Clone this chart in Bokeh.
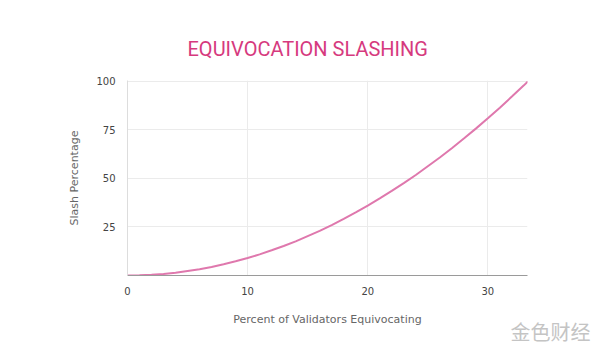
from bokeh.plotting import figure
from bokeh.embed import file_html
from bokeh.resources import INLINE
from bokeh.models import Range1d, FixedTicker, Title

# Data
validators_pct = [0, 1, 2, 3, 4, 5, 6, 7, 8, 9, 10, 11, 12, 13, 14, 15, 16, 17,
                  18, 19, 20, 21, 22, 23, 24, 25, 26, 27, 28, 29, 30, 31, 32, 33, 33.33]
slash_pct = [0, 0.1, 0.4, 0.8, 1.4, 2.3, 3.2, 4.4, 5.8, 7.3, 9.0, 10.9, 13.0, 15.2,
             17.6, 20.3, 23.0, 26.0, 29.2, 32.5, 36.0, 39.7, 43.6, 47.6, 51.8, 56.3,
             60.8, 65.6, 70.6, 75.7, 81.0, 86.5, 92.2, 98.0, 100.0]
x_ticks = [0, 10, 20, 30]
y_ticks = [25, 50, 75, 100]

title_text = "EQUIVOCATION SLASHING"
x_label = "Percent of Validators Equivocating"
y_label = "Slash Percentage"
watermark = "金色财经"

p = figure(width=600, height=353, output_backend="svg", toolbar_location=None,
           x_range=Range1d(0, 33.3), y_range=Range1d(0, 100.5),
           min_border_left=127, min_border_right=73, min_border_top=80,
           min_border_bottom=78)

p.title.text = title_text
p.title.align = "left"
p.title.text_color = "#d63a7e"
p.title.text_font = "Roboto"
p.title.text_font_size = "20px"
p.title.text_font_style = "normal"
p.title.offset = 60
p.title.standoff = 39

p.background_fill_color = "white"
p.border_fill_color = "white"
p.outline_line_color = None

p.line(validators_pct, slash_pct, line_color="#df78ad", line_width=2)

p.xaxis.ticker = FixedTicker(ticks=x_ticks)
p.yaxis.ticker = FixedTicker(ticks=y_ticks)
p.xgrid.ticker = FixedTicker(ticks=[10, 20, 30])
p.ygrid.ticker = FixedTicker(ticks=y_ticks)
p.grid.grid_line_color = "#ebebeb"
p.grid.grid_line_width = 1

for ax in (p.xaxis, p.yaxis):
    ax.major_tick_line_color = None
    ax.minor_tick_line_color = None
    ax.major_label_text_font = "DejaVu Sans"
    ax.major_label_text_font_size = "10px"
    ax.major_label_text_color = "#444444"
    ax.axis_label_text_font = "DejaVu Sans"
    ax.axis_label_text_font_size = "11px"
    ax.axis_label_text_font_style = "normal"
    ax.axis_label_text_color = "#666666"

p.xaxis.axis_line_color = "#9a9a9a"
p.yaxis.axis_line_color = "#dddddd"
p.xaxis.major_label_standoff = 5
p.yaxis.major_label_standoff = 6
p.xaxis.axis_label = x_label
p.yaxis.axis_label = y_label
p.xaxis.axis_label_standoff = 15
p.yaxis.axis_label_standoff = 12

wm = Title(text=watermark, align="right", offset=-63, standoff=-28,
           text_font="Noto Sans CJK SC", text_font_size="20px",
           text_font_style="normal", text_color="#c4c4c4")
p.add_layout(wm, "below")

open("out.html", "w").write(file_html(p, INLINE))
